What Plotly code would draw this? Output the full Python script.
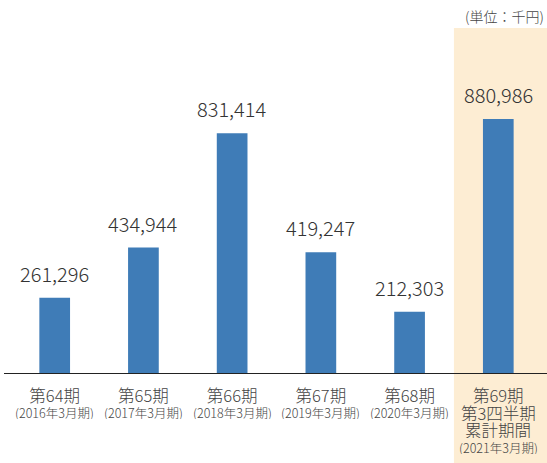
import plotly.graph_objects as go

# ---- data ----
periods = ["第64期", "第65期", "第66期", "第67期", "第68期", "第69期"]
extra_lines = [[], [], [], [], [], ["第3四半期", "累計期間"]]
fiscal = ["(2016年3月期)", "(2017年3月期)", "(2018年3月期)", "(2019年3月期)", "(2020年3月期)", "(2021年3月期)"]
values = [261296, 434944, 831414, 419247, 212303, 880986]
unit_label = "(単位：千円)"

FONT = "Noto Sans CJK JP, Noto Sans, sans-serif"
BAR_COLOR = "#3f7cb7"
HILITE = "#fdedd3"
TXT = "#444444"

# plot-area geometry (pixels) used to convert label rows to paper coords
PLOT_TOP, PLOT_BOTTOM = 28, 373
PH = PLOT_BOTTOM - PLOT_TOP


def py2paper(py):
    return (PLOT_BOTTOM - py) / PH


xs = list(range(len(values)))

fig = go.Figure()
fig.add_trace(go.Bar(
    x=xs, y=values, width=0.346,
    marker=dict(color=BAR_COLOR, line=dict(width=0)),
    hoverinfo="skip",
))

for x, v in zip(xs, values):
    fig.add_annotation(
        x=x, y=v, xref="x", yref="y",
        text=f"{v:,}", showarrow=False,
        yanchor="bottom", yshift=8,
        font=dict(family=FONT, size=20, color="#333333", weight=300),
    )

# additional category label rows under the tick labels
for x, extra, fy in zip(xs, extra_lines, fiscal):
    row_y = 413
    for line in extra:
        fig.add_annotation(
            x=x, y=py2paper(row_y), xref="x", yref="paper",
            text=line, showarrow=False, yanchor="middle",
            height=16, borderpad=0,
            font=dict(family=FONT, size=16.5, color=TXT, weight=300),
        )
        row_y += 17
    fy_y = 412 if not extra else row_y
    fig.add_annotation(
        x=x, y=py2paper(fy_y), xref="x", yref="paper",
        text=fy, showarrow=False, yanchor="middle",
        height=14, borderpad=0,
        font=dict(family=FONT, size=12.5, color=TXT, weight=300),
    )

fig.add_annotation(
    x=1, y=py2paper(16), xref="paper", yref="paper",
    text=unit_label, showarrow=False,
    xanchor="right", yanchor="middle", xshift=-1,
    font=dict(family=FONT, size=14, color=TXT, weight=300),
)

# highlight for the latest period
fig.add_shape(
    type="rect", xref="x", yref="paper",
    x0=4.5, x1=5.6, y0=-0.27, y1=1.0,
    fillcolor=HILITE, line=dict(width=0), layer="below",
)

fig.update_layout(
    width=547, height=463,
    margin=dict(l=4, r=0, t=PLOT_TOP, b=463 - PLOT_BOTTOM),
    paper_bgcolor="white", plot_bgcolor="rgba(0,0,0,0)",
    showlegend=False,
    font=dict(family=FONT, color=TXT),
    xaxis=dict(
        range=[-0.5715, 5.549],
        tickmode="array", tickvals=xs, ticktext=periods,
        tickfont=dict(family=FONT, size=16.5, color=TXT, weight=300),
        ticklabelstandoff=8,
        showline=True, linecolor="#222222", linewidth=1.2,
        showgrid=False, zeroline=False, ticks="",
        fixedrange=True,
    ),
    yaxis=dict(
        range=[0, 1196615],
        visible=False, showgrid=False, zeroline=False,
        fixedrange=True,
    ),
)

fig.write_html("out.html")
